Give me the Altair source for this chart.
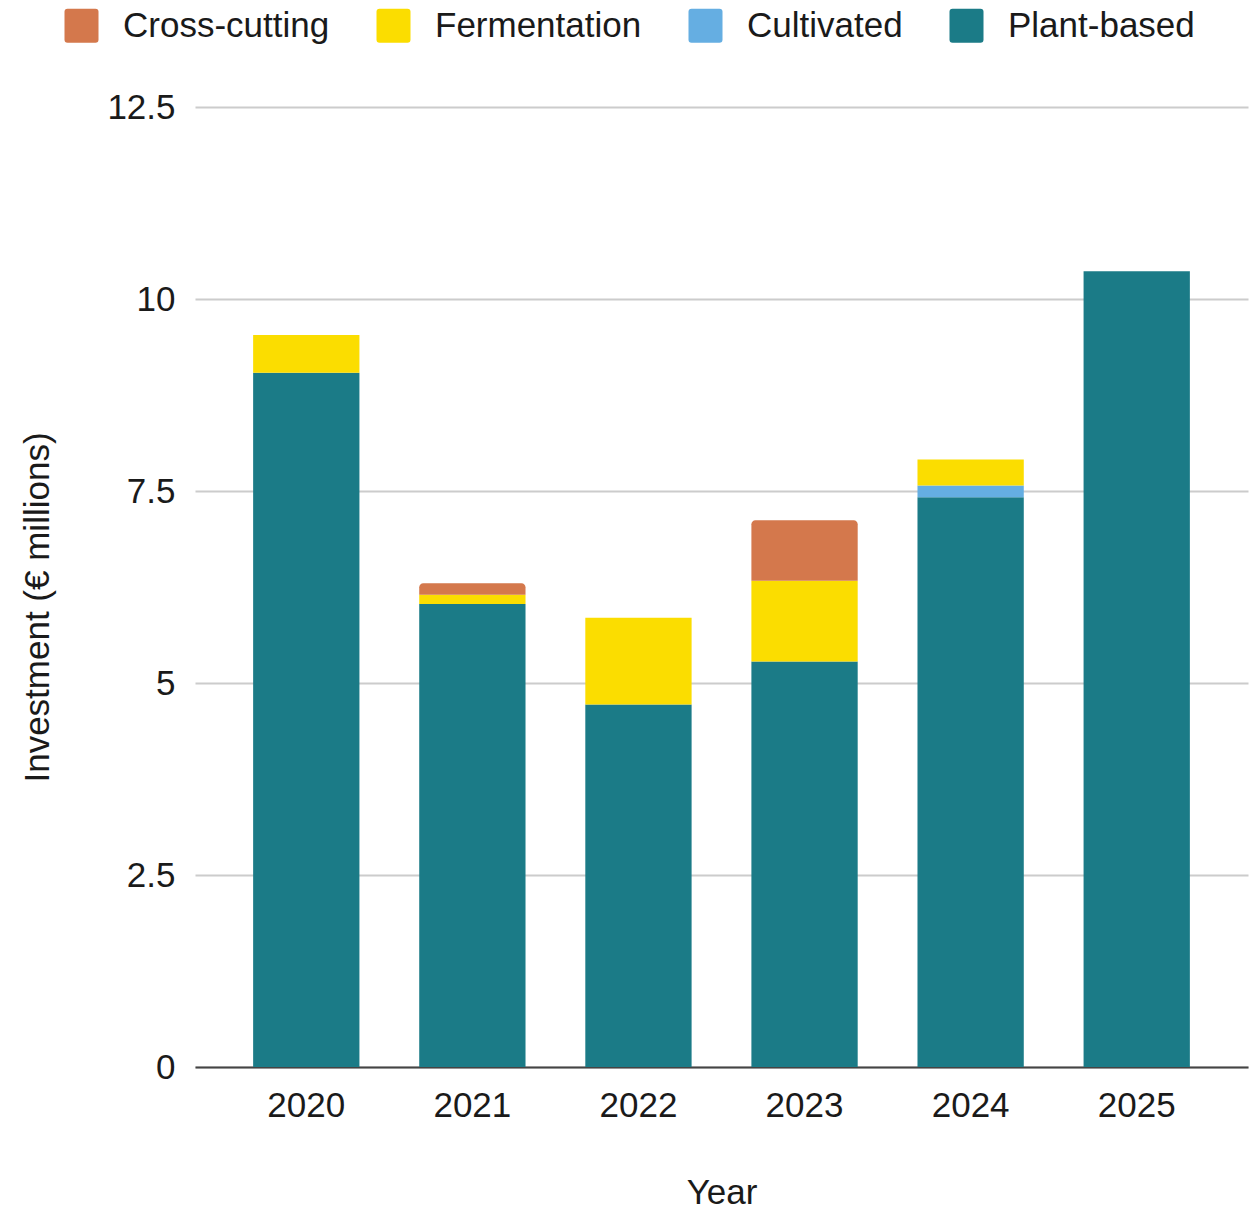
import altair as alt
import pandas as pd

# Annual investment by protein category (€ millions)
years = ["2020", "2021", "2022", "2023", "2024", "2025"]
plant_based = [9.04, 6.03, 4.72, 5.28, 7.42, 10.36]
cultivated = [0.0, 0.0, 0.0, 0.0, 0.15, 0.0]
fermentation = [0.49, 0.12, 1.13, 1.05, 0.34, 0.0]
cross_cutting = [0.0, 0.15, 0.0, 0.79, 0.0, 0.0]

categories = ["Cross-cutting", "Fermentation", "Cultivated", "Plant-based"]
colors = ["#D4784C", "#FBDD00", "#65AEE2", "#1B7B87"]
stack_order = {"Plant-based": 0, "Cultivated": 1, "Fermentation": 2, "Cross-cutting": 3}

series = {
    "Plant-based": plant_based,
    "Cultivated": cultivated,
    "Fermentation": fermentation,
    "Cross-cutting": cross_cutting,
}
rows = []
for cat, vals in series.items():
    for yr, v in zip(years, vals):
        if v > 0:
            rows.append({"Year": yr, "Category": cat, "Value": v, "order": stack_order[cat]})
df = pd.DataFrame(rows)

FONT = "Liberation Sans"
TEXT = "#1a1a1a"

# rounded-corner square used for legend swatches
rounded_square = ("M-0.82,-1 L0.82,-1 Q1,-1 1,-0.82 L1,0.82 Q1,1 0.82,1 "
                  "L-0.82,1 Q-1,1 -1,0.82 L-1,-0.82 Q-1,-1 -0.82,-1 Z")

base = alt.Chart(df).transform_stack(
    stack="Value",
    groupby=["Year"],
    as_=["y0", "y1"],
    sort=[alt.SortField("order", order="ascending")],
)

x_enc = alt.X(
    "Year:N",
    sort=years,
    scale=alt.Scale(paddingInner=0.36, paddingOuter=0.35),
    axis=alt.Axis(
        title="Year",
        labelAngle=0,
        labelFontSize=35,
        labelFont=FONT,
        labelColor=TEXT,
        labelPadding=21,
        ticks=False,
        domain=True,
        domainColor="#444444",
        domainWidth=2,
        titleFontSize=35,
        titleFont=FONT,
        titleFontWeight="normal",
        titleColor=TEXT,
        titleBaseline="alphabetic",
        titleY=136,
    ),
)
y_enc = alt.Y(
    "y0:Q",
    scale=alt.Scale(domain=[0, 12.5], nice=False),
    axis=alt.Axis(
        title="Investment (€ millions)",
        values=[0, 2.5, 5, 7.5, 10, 12.5],
        format=".1~f",
        labelFontSize=35,
        labelFont=FONT,
        labelColor=TEXT,
        labelPadding=20,
        ticks=False,
        domain=False,
        grid=True,
        gridColor="#cccccc",
        gridWidth=2,
        titleFontSize=35,
        titleFont=FONT,
        titleFontWeight="normal",
        titleColor=TEXT,
        titleAngle=-90,
        titleAlign="center",
        titleBaseline="alphabetic",
        titleX=-147,
        titleY=500,
    ),
)
color_enc = alt.Color(
    "Category:N",
    scale=alt.Scale(domain=categories, range=colors),
    legend=alt.Legend(
        title=None,
        orient="none",
        direction="horizontal",
        legendX=-131,
        legendY=-99,
        symbolType=rounded_square,
        symbolSize=1156,
        symbolStrokeWidth=0,
        symbolOpacity=1,
        labelFontSize=35,
        labelFont=FONT,
        labelColor=TEXT,
        labelOffset=24,
        labelLimit=0,
        columnPadding=46,
        padding=0,
    ),
)

lower = base.transform_filter(alt.datum.Category != "Cross-cutting").mark_bar().encode(
    x=x_enc, y=y_enc, y2="y1:Q", color=color_enc
)
top = base.transform_filter(alt.datum.Category == "Cross-cutting").mark_bar(
    cornerRadiusTopLeft=4, cornerRadiusTopRight=4
).encode(x=x_enc, y=y_enc, y2="y1:Q", color=color_enc)

chart = alt.layer(lower, top).properties(
    width=1053,
    height=960,
    autosize=alt.AutoSizeParams(type="none"),
    padding={"left": 195, "top": 107, "right": 7, "bottom": 143},
    background="white",
).configure_view(stroke=None)

chart.save("out.html", embed_options={"renderer": "svg", "actions": False})
